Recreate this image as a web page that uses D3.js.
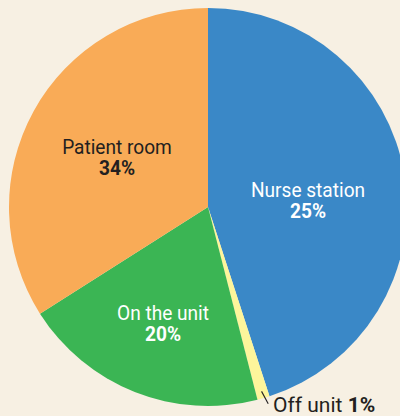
<!DOCTYPE html>
<html>
<head>
<meta charset="utf-8">
<script src="https://cdn.jsdelivr.net/npm/d3@7"></script>
<style>
  html, body { margin: 0; padding: 0; background: #f7f0e3; }
  svg { display: block; }
  text { font-family: "Roboto", "Noto Sans", sans-serif; }
</style>
</head>
<body>
<div id="chart"></div>
<script>
// slice data (clockwise from 12 o'clock)
var categories = ["Nurse station", "Off unit", "On the unit", "Patient room"];
var shares = [45, 1, 20, 34];                 // slice sizes
var pctLabels = ["25%", "1%", "20%", "34%"];  // printed labels as shown
var colors = ["#3a88c7", "#fdf59b", "#3bb554", "#f9ab57"];
var textColors = ["#ffffff", "#231f20", "#ffffff", "#231f20"];

var W = 400, H = 416;
var cx = 208, cy = 207, R = 199;
var fs = 21, squeeze = 0.91; // font is a narrow one, so squash Roboto a bit

var svg = d3.select("#chart").append("svg")
  .attr("width", W)
  .attr("height", H);

var data = categories.map(function(c, i){
  return { name: c, value: shares[i], pct: pctLabels[i], color: colors[i], tc: textColors[i] };
});

var pie = d3.pie().sort(null).value(function(d){ return d.value; });
var arc = d3.arc().innerRadius(0).outerRadius(R);
var arcs = pie(data);

var g = svg.append("g").attr("transform", "translate(" + cx + "," + cy + ")");

g.selectAll("path.slice")
  .data(arcs)
  .enter()
  .append("path")
    .attr("class", "slice")
    .attr("d", arc)
    .attr("fill", function(d){ return d.data.color; });

// label anchors, offsets from centre (x, first baseline)
var labelPos = {
  "Nurse station": [100, -10],
  "On the unit": [-45, 113],
  "Patient room": [-91, -53]
};

arcs.forEach(function(d){
  var p = labelPos[d.data.name];
  if( !p ) return;
  var t = g.append("text")
    .attr("transform", "translate(" + p[0] + "," + p[1] + ") scale(" + squeeze + ",1)")
    .attr("text-anchor", "middle")
    .attr("fill", d.data.tc)
    .attr("font-size", fs);
  t.append("tspan").attr("x", 0).attr("y", 0).text(d.data.name);
  t.append("tspan").attr("x", 0).attr("y", 21)
    .attr("font-weight", "bold").text(d.data.pct);
});

// small slice gets an outside label with a leader line
var off = arcs[1];
var a = (off.startAngle + off.endAngle) / 2;
var r1 = R - 7, r2 = R + 6;
g.append("line")
  .attr("x1", Math.sin(a) * r1).attr("y1", -Math.cos(a) * r1)
  .attr("x2", Math.sin(a) * r2 + 3).attr("y2", -Math.cos(a) * r2)
  .attr("stroke", "#231f20")
  .attr("stroke-width", 1.1);

var ot = g.append("text")
  .attr("transform", "translate(65,205)")
  .attr("fill", off.data.tc)
  .attr("font-size", fs);
ot.append("tspan").text(off.data.name + " ");
ot.append("tspan").attr("font-weight", "bold").text(off.data.pct);
</script>
</body>
</html>
